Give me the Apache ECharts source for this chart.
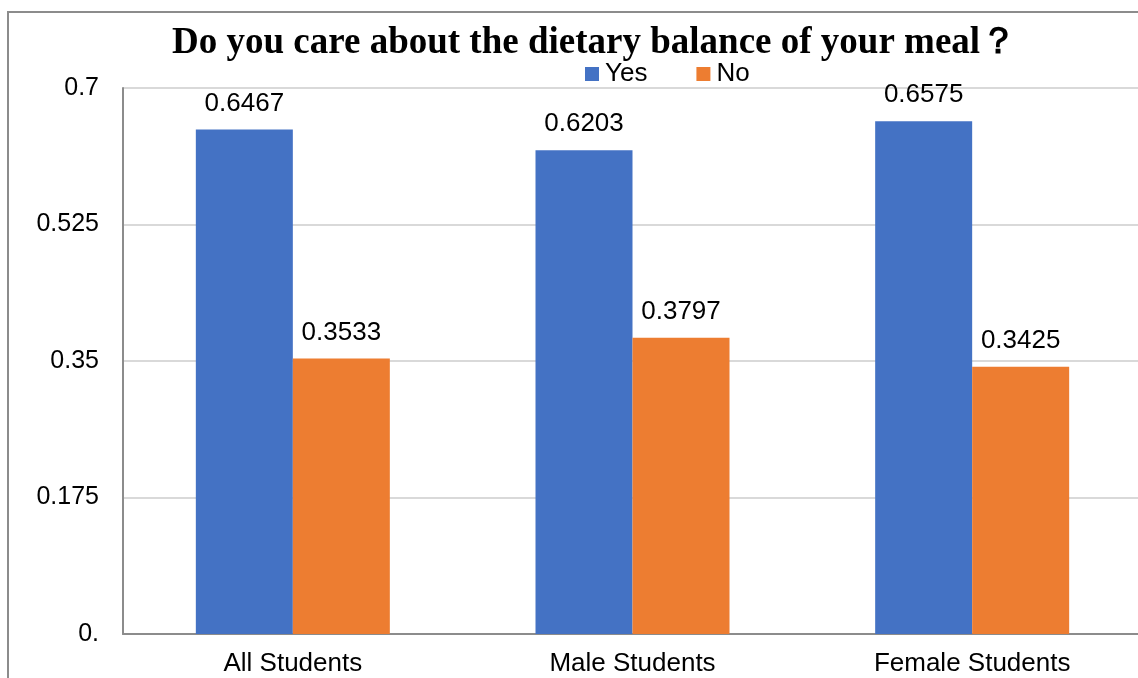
<!DOCTYPE html>
<html>
<head>
<meta charset="utf-8">
<script src="https://cdn.jsdelivr.net/npm/echarts@6/dist/echarts.min.js"></script>
<style>
html,body{margin:0;padding:0;background:#fff;}
#chart{width:1138px;height:678px;}
</style>
</head>
<body>
<div id="chart"></div>
<script>
const titleText = 'Do you care about the dietary balance of your meal？';
const categories = ['All Students', 'Male Students', 'Female Students'];
const yesValues = [0.6467, 0.6203, 0.6575];
const noValues = [0.3533, 0.3797, 0.3425];
const seriesNames = ['Yes', 'No'];
const yTickLabels = ['0.', '0.175', '0.35', '0.525', '0.7'];

const chart = echarts.init(document.getElementById('chart'));
const sans = '"Liberation Sans", Arial, sans-serif';
const labelStyle = {
  show: true, position: 'top', distance: 13,
  color: '#000', fontFamily: sans, fontSize: 26,
  formatter: p => p.value.toFixed(4)
};
chart.setOption({
  animation: false,
  backgroundColor: '#fff',
  graphic: [{
    type: 'rect', shape: {x: 8, y: 12, width: 1200, height: 800},
    style: {fill: 'none', stroke: '#8c8c8c', lineWidth: 2}, z: -1
  }],
  title: {
    text: titleText, left: 172, top: 25, padding: 0,
    textStyle: {fontFamily: '"Liberation Serif", "Times New Roman", serif', fontWeight: 'bold', fontSize: 37, color: '#000'}
  },
  legend: {
    data: seriesNames, left: 585, top: 61, padding: 0,
    itemWidth: 14, itemHeight: 14, itemGap: 49, icon: 'rect',
    textStyle: {fontFamily: sans, fontSize: 26, color: '#000', padding: [0, 0, 0, 1]}
  },
  grid: {left: 123, width: 1019, top: 88, bottom: 44, containLabel: false, outerBoundsMode: 'none'},
  xAxis: {
    type: 'category', data: categories,
    axisLine: {lineStyle: {color: '#8c8c8c', width: 2}},
    axisTick: {show: false},
    axisLabel: {fontFamily: sans, fontSize: 26, color: '#000', margin: 17}
  },
  yAxis: {
    type: 'value', min: 0, max: 0.7, interval: 0.175,
    axisLine: {show: true, lineStyle: {color: '#8c8c8c', width: 2}},
    axisTick: {show: false},
    splitLine: {lineStyle: {color: '#d9d9d9', width: 2}},
    axisLabel: {fontFamily: sans, fontSize: 25, color: '#000', margin: 24,
      formatter: (v, i) => yTickLabels[i]}
  },
  series: [
    {name: seriesNames[0], type: 'bar', data: yesValues, barWidth: 97, barGap: '0%',
     itemStyle: {color: '#4472C4'}, label: labelStyle},
    {name: seriesNames[1], type: 'bar', data: noValues, barWidth: 97, barGap: '0%',
     itemStyle: {color: '#ED7D31'}, label: labelStyle}
  ]
});
</script>
</body>
</html>
